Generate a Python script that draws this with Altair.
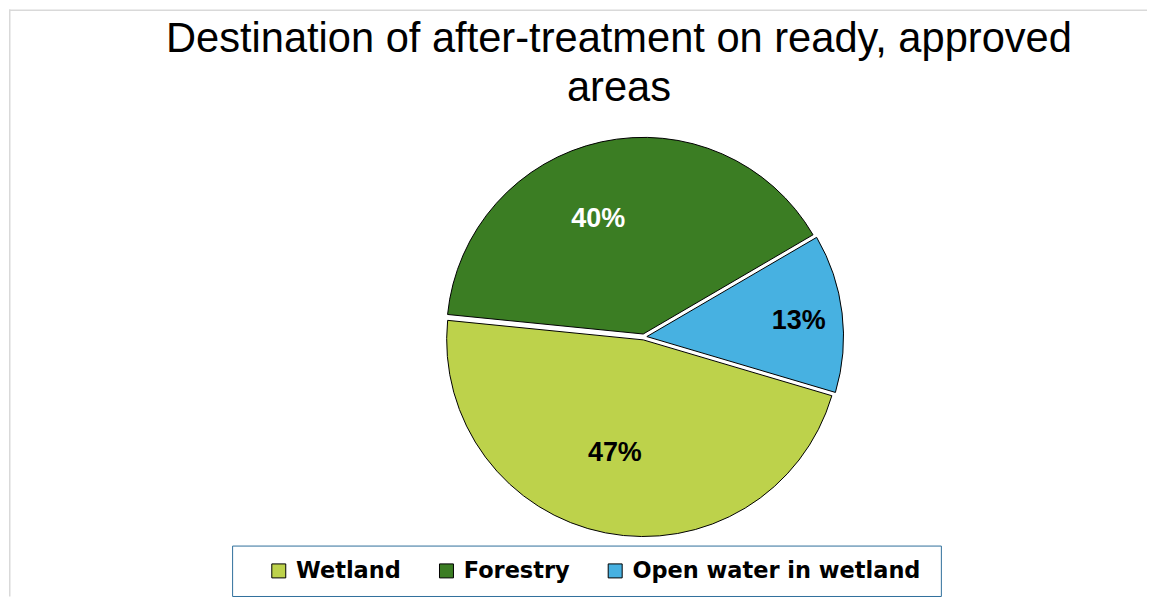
import math
import altair as alt
import pandas as pd

# ---- data ----
categories = ["Wetland", "Forestry", "Open water in wetland"]
values = [47, 40, 13]
labels = ["47%", "40%", "13%"]
slice_colors = ["#BDD24B", "#3B7D23", "#47B1E1"]
label_colors = ["#000000", "#FFFFFF", "#000000"]
title_lines = ["Destination of after-treatment on ready, approved", "areas"]

# ---- layout ----
W, H = 1140, 588
CX, CY = 636, 328            # pie centre (view coords)
R = 197                      # pie radius
START = math.radians(106.5)  # angle of the first slice (clockwise from 12 o'clock)
EXPLODE = 3                  # slice separation
TWO_PI = 2 * math.pi
# data-label placement: (radius from centre, angle nudge in degrees)
LABEL_PLACE = {"Wetland": (117, 3), "Forestry": (124, -9), "Open water in wetland": (153, 1)}

lr_expr = " : ".join(
    [f"datum.category == '{k}' ? {v[0]}" for k, v in LABEL_PLACE.items()] + ["120"]
)
ln_expr = " : ".join(
    [f"datum.category == '{k}' ? {math.radians(v[1])}" for k, v in LABEL_PLACE.items()] + ["0"]
)

df = pd.DataFrame({
    "category": categories,
    "value": values,
    "label": labels,
    "idx": list(range(len(categories))),
    "labelColor": label_colors,
})

base = (
    alt.Chart(df)
    .transform_window(cum="sum(value)", sort=[alt.SortField("idx", order="ascending")], frame=[None, 0])
    .transform_joinaggregate(total="sum(value)")
    .transform_calculate(
        a0=f"{START} + {TWO_PI}*(datum.cum - datum.value)/datum.total",
        a1=f"{START} + {TWO_PI}*datum.cum/datum.total",
    )
    .transform_calculate(mid="(datum.a0 + datum.a1)/2")
    .transform_calculate(
        px=f"{CX} + {EXPLODE}*sin(datum.mid)",
        py=f"{CY} - {EXPLODE}*cos(datum.mid)",
        lr=lr_expr,
        la=f"datum.mid + ({ln_expr})",
    )
    .transform_calculate(
        tx="datum.px + datum.lr*sin(datum.la)",
        ty="datum.py - datum.lr*cos(datum.la)",
    )
)

arcs = base.mark_arc(radius=R, stroke="#000000", strokeWidth=1).encode(
    theta=alt.Theta("a0:Q", scale=None, stack=None),
    theta2="a1:Q",
    x=alt.X("px:Q", scale=None, axis=None),
    y=alt.Y("py:Q", scale=None, axis=None),
    color=alt.Color(
        "category:N",
        scale=alt.Scale(domain=categories, range=slice_colors),
        legend=alt.Legend(
            orient="none",
            legendX=259,
            legendY=551,
            direction="horizontal",
            title=None,
            symbolType="square",
            symbolSize=196,
            symbolStrokeColor="#000000",
            symbolStrokeWidth=1,
            symbolOpacity=1,
            labelFont="DejaVu Sans",
            labelFontWeight="bold",
            labelFontSize=22.5,
            labelColor="#000000",
            labelOffset=6,
            labelLimit=400,
            columnPadding=34,
            padding=0,
        ),
    ),
)

texts = base.mark_text(
    font="Liberation Sans", fontWeight="bold", fontSize=27, align="center", baseline="middle"
).encode(
    x=alt.X("tx:Q", scale=None, axis=None),
    y=alt.Y("ty:Q", scale=None, axis=None),
    text="label:N",
    fill=alt.Fill("labelColor:N", scale=None),
)

one = pd.DataFrame({"d": [0]})

frame_top = alt.Chart(one).mark_rule(color="#D9D9D9", strokeWidth=1.5).encode(
    x=alt.value(0), x2=alt.value(W), y=alt.value(0.75)
)
frame_left = alt.Chart(one).mark_rule(color="#D9D9D9", strokeWidth=1.5).encode(
    x=alt.value(0.75), y=alt.value(0), y2=alt.value(H)
)
legend_box = alt.Chart(one).mark_rect(fill="#FFFFFF", fillOpacity=0, stroke="#2F6F9C", strokeWidth=1).encode(
    x=alt.value(224), x2=alt.value(934), y=alt.value(537.5), y2=alt.value(588)
)
title = alt.Chart(one).mark_text(
    font="Liberation Sans", fontSize=41.7, align="center", baseline="alphabetic", lineHeight=49, color="#000000"
).encode(
    x=alt.value(611), y=alt.value(42.5), text=alt.value(title_lines)
)

chart = (
    alt.layer(frame_top, frame_left, legend_box, title, arcs, texts)
    .properties(width=W, height=H, padding=0, background="#FFFFFF")
    .configure_view(stroke=None)
)

chart.save("out.html", embed_options={"renderer": "svg", "actions": False})
